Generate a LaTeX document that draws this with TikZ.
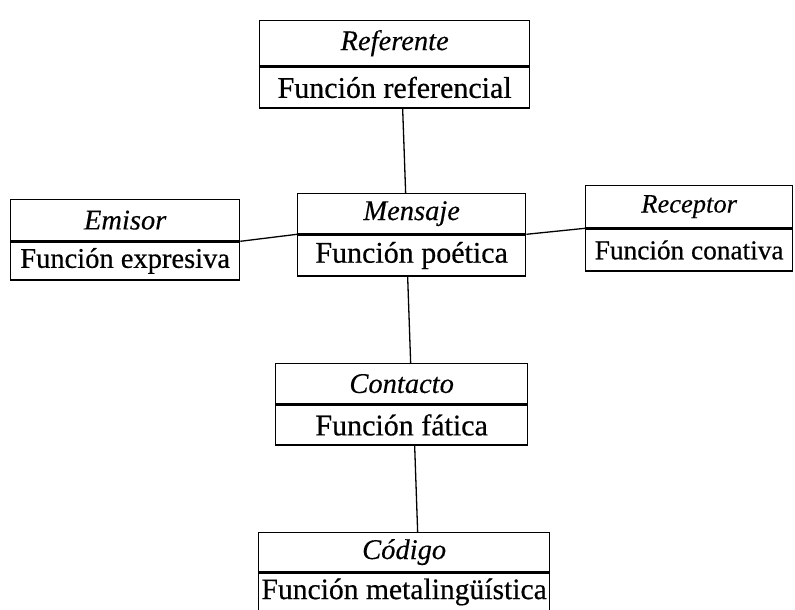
\documentclass[tikz,border=0pt]{standalone}
\usepackage{fontspec}
\setmainfont{Liberation Serif}
\newfontface\medfont{Liberation Serif}[FakeBold=0.5]
\newfontface\meditfont{Liberation Serif Italic}[FakeBold=0.3]
\begin{document}
\begin{tikzpicture}[x=1pt,y=-1pt,
  part/.style={draw, line width=1.3pt, anchor=north west, inner sep=0pt},
  hd/.style={part, font=\fontsize{28.5}{30}\meditfont},
  fn/.style={part, font=\fontsize{30}{32}\medfont},
  conn/.style={line width=1.3pt}]
\useasboundingbox (0,0) rectangle (795,610);
% Referente
\node[hd, minimum width=270pt, minimum height=45pt] (refT) at (259,20) {Referente};
\node[fn, minimum width=270pt, minimum height=41pt] (refB) at (refT.south west) {Función referencial};
% Emisor
\node[hd, minimum width=229pt, minimum height=41pt] (emiT) at (10,199) {Emisor};
\node[fn, minimum width=229pt, minimum height=38pt, font=\fontsize{28.5}{30}\medfont] (emiB) at (emiT.south west) {Función expresiva};
% Mensaje
\node[hd, minimum width=228pt, minimum height=40pt] (menT) at (297,193) {Mensaje};
\node[fn, minimum width=228pt, minimum height=41pt] (menB) at (menT.south west) {Función poética};
% Receptor
\node[hd, minimum width=207pt, minimum height=42pt, font=\fontsize{26.5}{28}\meditfont] (recT) at (585,185) {Receptor};
\node[fn, minimum width=207pt, minimum height=42pt, font=\fontsize{27.3}{29}\medfont] (recB) at (recT.south west) {Función conativa};
% Contacto
\node[hd, minimum width=252pt, minimum height=40pt] (conT) at (275,363) {Contacto};
\node[fn, minimum width=252pt, minimum height=40pt] (conB) at (conT.south west) {Función fática};
% Código
\node[hd, minimum width=291pt, minimum height=39pt] (codT) at (258,532) {Código};
\node[fn, minimum width=291pt, minimum height=38pt, font=\fontsize{29.6}{31}\medfont] (codB) at (codT.south west) {Función metalingüística};
% connectors
\draw[conn] ([xshift=8pt]refB.south) -- ([xshift=-6pt]menT.north);
\draw[conn] ([xshift=-4pt]menB.south) -- ([xshift=9pt]conT.north);
\draw[conn] ([xshift=13pt]conB.south) -- ([xshift=13.5pt]codT.north);
\draw[conn] (emiT.south east) -- (menT.south west);
\draw[conn] (menT.south east) -- (recT.south west);
\end{tikzpicture}
\end{document}
